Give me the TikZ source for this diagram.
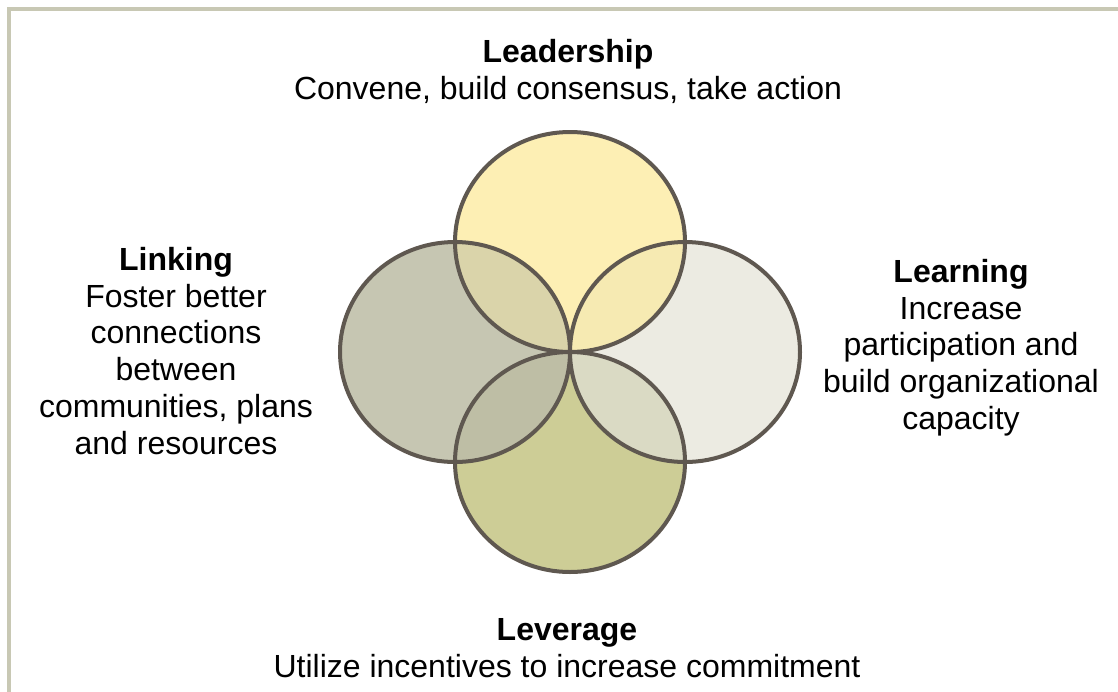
\documentclass[tikz,border=0pt]{standalone}
\usepackage{fontspec}
\setmainfont{Liberation Sans}

\definecolor{framegray}{RGB}{200,200,180}
\definecolor{ringline}{RGB}{95,88,80}
\definecolor{leadfill}{RGB}{253,239,180}
\definecolor{linkfill}{RGB}{198,198,178}
\definecolor{learnfill}{RGB}{236,235,226}
\definecolor{leverfill}{RGB}{205,205,150}
\definecolor{leadlink}{RGB}{218,212,170}
\definecolor{leadlearn}{RGB}{246,234,178}
\definecolor{leverlink}{RGB}{190,190,165}
\definecolor{leverlearn}{RGB}{218,218,196}

\tikzset{
  ring/.style={x radius=\rx, y radius=\ry},
  blurb/.style={align=center, anchor=north, inner sep=0pt,
    font=\fontsize{32}{36.8}\selectfont}
}

\begin{document}
\begin{tikzpicture}[x=1pt,y=-1pt]
% Parameters
\def\cx{570}
\def\cy{352}
\def\rx{115}
\def\ry{110}

\useasboundingbox (0,0) rectangle (1118,691);

% Frame
\draw[framegray, line width=4pt] (9,700) -- (9,8.5) -- (1130,8.5);

% Ring centres
\coordinate (lead) at (\cx,\cy-\ry);
\coordinate (link) at (\cx-\rx,\cy);
\coordinate (learn) at (\cx+\rx,\cy);
\coordinate (lever) at (\cx,\cy+\ry);

% Fills
\fill[leadfill] (lead) ellipse [ring];
\fill[linkfill] (link) ellipse [ring];
\fill[learnfill] (learn) ellipse [ring];
\fill[leverfill] (lever) ellipse [ring];

% Overlaps
\begin{scope}
\clip (lead) ellipse [ring];
\fill[leadlink] (link) ellipse [ring];
\fill[leadlearn] (learn) ellipse [ring];
\end{scope}
\begin{scope}
\clip (lever) ellipse [ring];
\fill[leverlink] (link) ellipse [ring];
\fill[leverlearn] (learn) ellipse [ring];
\end{scope}

% Outlines
\foreach \c in {lead,link,learn,lever}
  \draw[ringline, line width=4pt] (\c) ellipse [ring];

% Texts
\node[blurb] (leadtext) at (568,39) {\textbf{Leadership}\\Convene, build consensus, take action};
\node[blurb] (linktext) at (176,247) {\textbf{Linking}\\Foster better\\connections\\between\\communities, plans\\and resources};
\node[blurb] (learntext) at (961,259) {\textbf{Learning}\\Increase\\participation and\\build organizational\\capacity};
\node[blurb] (levertext) at (567,618) {\textbf{Leverage}\\Utilize incentives to increase commitment};
\end{tikzpicture}
\end{document}
